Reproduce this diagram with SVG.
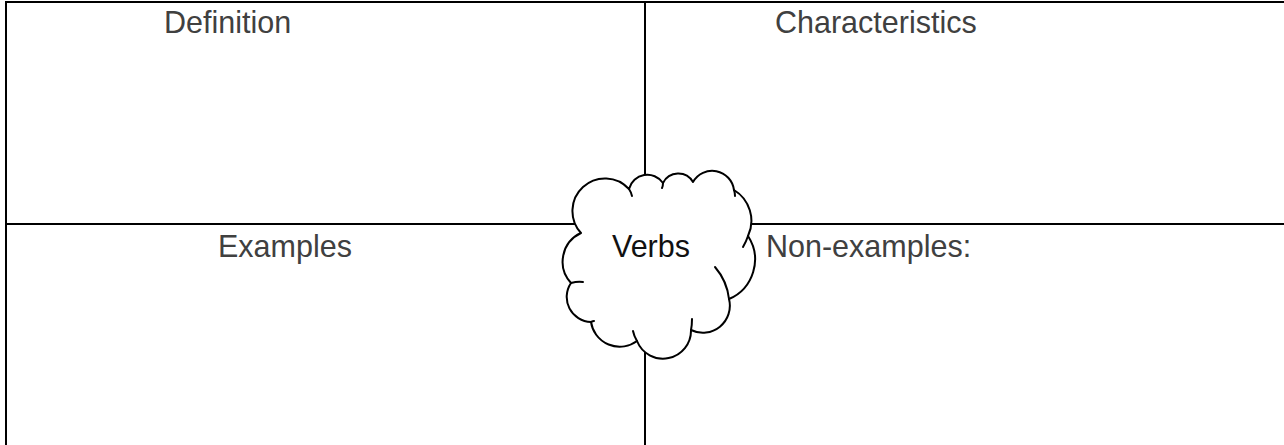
<svg xmlns="http://www.w3.org/2000/svg" width="1284" height="445" viewBox="0 0 1284 445">
<style>
.ln{stroke:#000;stroke-width:2;fill:none}
.lbl{font-family:"Liberation Sans",Arial,sans-serif;font-size:30.5px;fill:#404040}
.cl{stroke:#000;stroke-width:2;fill:#fff;stroke-linejoin:round}
.tk{stroke:#000;stroke-width:2;fill:none;stroke-linecap:round}
</style>
<rect width="1284" height="445" fill="#fff"/>
<g id="connectors">
<line class="ln" x1="5" y1="2" x2="1284" y2="2"/>
<line class="ln" x1="6" y1="1" x2="6" y2="445"/>
<line class="ln" x1="645" y1="2" x2="645" y2="445"/>
<line class="ln" x1="6" y1="224" x2="1284" y2="224"/>
</g>
<g id="definition"><text class="lbl" x="164" y="33">Definition</text></g>
<g id="characteristics"><text class="lbl" x="775" y="33">Characteristics</text></g>
<g id="examples"><text class="lbl" x="218" y="257">Examples</text></g>
<g id="non-examples"><text class="lbl" x="766" y="257">Non-examples:</text></g>
<g id="verbs">
<path class="cl" d="M581,233 A32,32 0 0 1 629,189 A19,19 0 0 1 663,183 A17,17 0 0 1 693,182 A22,22 0 0 1 734,190 A36,36 0 0 1 748,236 A43,43 0 0 1 729,299 A27,27 0 0 1 691,330 A28,28 0 0 1 637,341 A29,29 0 0 1 591,322 A25,25 0 0 1 571,283 A31.5,31.5 0 0 1 581,233 Z"/>
<path class="tk" d="M629,189 Q631,192 632,196"/>
<path class="tk" d="M663,183 Q663,186 662,188"/>
<path class="tk" d="M734,190 Q735,193 735,196"/>
<path class="tk" d="M748,236 Q746,242 743,247"/>
<path class="tk" d="M715,267 Q727,281 729,299"/>
<path class="tk" d="M691,330 Q692,325 692,319"/>
<path class="tk" d="M637,341 Q634,336 633,331"/>
<path class="tk" d="M571,283 Q578,281 583,282"/>
<path class="tk" d="M591,322 Q593,321 594,321"/>
<text x="612" y="257" style="font-family:'Liberation Sans',Arial,sans-serif;font-size:30.5px;fill:#111">Verbs</text>
</g>
</svg>
